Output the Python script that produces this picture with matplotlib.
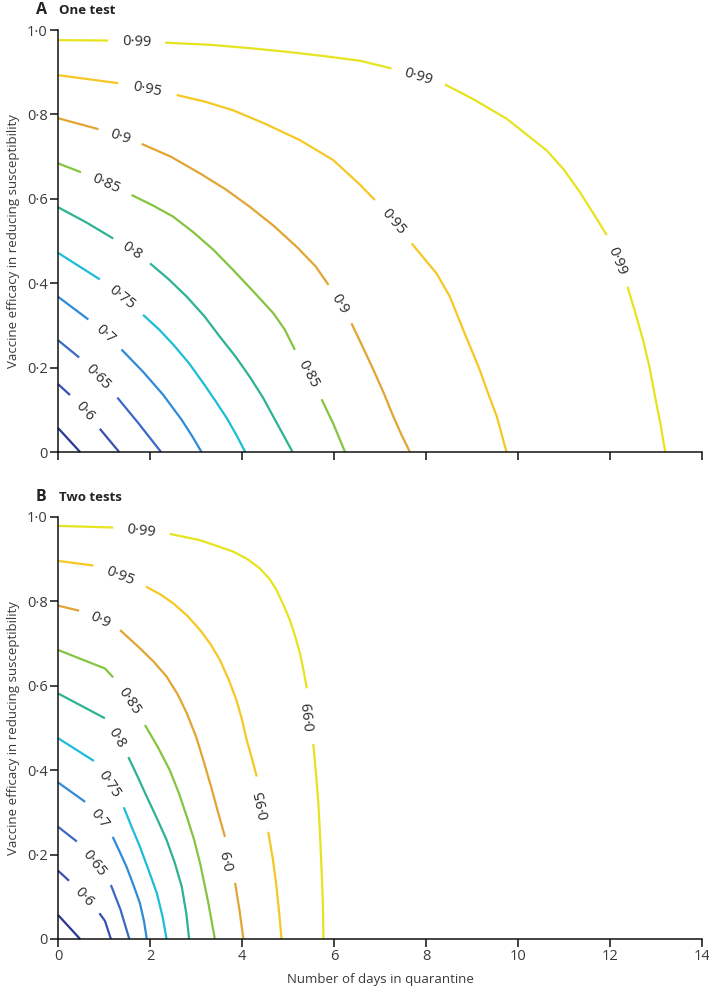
import numpy as np
import matplotlib
matplotlib.use("Agg")
import matplotlib.pyplot as plt
from matplotlib.ticker import FuncFormatter

plt.rcParams['font.family'] = ['Open Sans', 'DejaVu Sans']

levels = [0.55, 0.6, 0.65, 0.7, 0.75, 0.8, 0.85, 0.9, 0.95, 0.99]
level_text = ["0·55", "0·6", "0·65", "0·7", "0·75", "0·8", "0·85", "0·9", "0·95", "0·99"]
colours = ['#2b3894', '#3a4fb0', '#3b68c6', '#2f8ad8', '#1bbdd8',
           '#2db393', '#85c441', '#e2a533', '#f6c823', '#e6e41e']

# A: one test -- each contour read off point by point (days, efficacy)
# gaps = index i where the label sits between point i and i+1
one_test_days = [
    [0, 0.48],
    [0, 0.26, 0.91, 1.1, 1.33],
    [0, 0.46, 1.29, 1.75, 2.24],
    [0, 0.66, 1.38, 1.85, 2.29, 2.69, 2.92, 3.12],
    [0, 0.91, 1.85, 2.2, 2.51, 2.85, 3.16, 3.43, 3.67, 3.88, 4.07],
    [0, 0.6, 1.2, 2.0, 2.4, 2.8, 3.18, 3.52, 3.86, 4.17, 4.45, 4.68, 4.9, 5.1],
    [0, 0.5, 1.6, 2.05, 2.5, 2.95, 3.38, 3.81, 4.25, 4.68, 4.93, 5.15, 5.73, 5.98, 6.24],
    [0, 0.88, 1.82, 2.45, 3.09, 3.65, 4.17, 4.7, 5.2, 5.6, 5.88, 6.38, 6.62, 6.86, 7.08, 7.29, 7.47, 7.65],
    [0, 1.31, 2.58, 3.2, 3.8, 4.5, 5.26, 5.98, 6.57, 6.89, 7.69, 8.23, 8.52, 8.81, 8.99, 9.17, 9.35, 9.54, 9.75],
    [0, 1.09, 2.33, 3.3, 4.17, 5.0, 5.8, 6.57, 7.25, 8.41, 9.03, 9.75, 10.19, 10.62, 10.99, 11.35, 11.64,
     11.93, 12.38, 12.55, 12.72, 12.86, 12.98, 13.1, 13.2],
]
one_test_eff = [
    [0.057, 0],
    [0.161, 0.135, 0.055, 0.03, 0],
    [0.265, 0.224, 0.129, 0.068, 0],
    [0.368, 0.314, 0.243, 0.19, 0.135, 0.076, 0.037, 0],
    [0.472, 0.409, 0.325, 0.29, 0.254, 0.21, 0.163, 0.12, 0.08, 0.04, 0],
    [0.58, 0.545, 0.506, 0.447, 0.41, 0.368, 0.322, 0.273, 0.226, 0.178, 0.13, 0.084, 0.04, 0],
    [0.684, 0.663, 0.609, 0.585, 0.558, 0.52, 0.479, 0.431, 0.38, 0.329, 0.29, 0.242, 0.125, 0.068, 0],
    [0.791, 0.765, 0.73, 0.7, 0.66, 0.622, 0.581, 0.535, 0.485, 0.44, 0.396, 0.305, 0.25, 0.194, 0.14,
     0.084, 0.04, 0],
    [0.893, 0.874, 0.846, 0.83, 0.81, 0.778, 0.739, 0.692, 0.633, 0.597, 0.494, 0.423, 0.368, 0.289,
     0.242, 0.194, 0.139, 0.084, 0],
    [0.976, 0.975, 0.97, 0.965, 0.957, 0.948, 0.938, 0.927, 0.909, 0.871, 0.836, 0.79, 0.752, 0.715,
     0.67, 0.615, 0.565, 0.514, 0.392, 0.33, 0.265, 0.2, 0.131, 0.065, 0],
]
one_test_gaps = [[], [1], [1], [1], [1], [2], [1, 11], [1, 10], [1, 9], [1, 8, 17]]

# B: two tests
two_test_days = [
    [0, 0.48],
    [0, 0.24, 0.9, 1.02, 1.15],
    [0, 0.41, 1.15, 1.36, 1.55],
    [0, 0.59, 1.19, 1.34, 1.49, 1.64, 1.78, 1.87, 1.93],
    [0, 0.78, 1.43, 1.6, 1.78, 1.97, 2.15, 2.27, 2.36],
    [0, 1.02, 1.53, 1.73, 1.93, 2.15, 2.36, 2.54, 2.69, 2.79, 2.85],
    [0, 1.02, 1.2, 1.89, 2.17, 2.43, 2.63, 2.8, 2.96, 3.09, 3.26, 3.41],
    [0, 0.46, 1.35, 1.78, 2.08, 2.36, 2.6, 2.8, 3.0, 3.17, 3.33, 3.48, 3.63, 3.85, 3.95, 4.03],
    [0, 0.77, 1.91, 2.22, 2.51, 2.82, 3.09, 3.32, 3.52, 3.71, 3.88, 4.0, 4.1, 4.21, 4.32,
     4.57, 4.67, 4.75, 4.81, 4.86],
    [0, 1.2, 2.43, 3.09, 3.81, 4.12, 4.39, 4.6, 4.75, 4.9, 5.04, 5.16, 5.26, 5.34, 5.41,
     5.55, 5.61, 5.66, 5.7, 5.73, 5.76, 5.77],
]
two_test_eff = [
    [0.057, 0],
    [0.162, 0.138, 0.061, 0.043, 0],
    [0.266, 0.231, 0.128, 0.069, 0],
    [0.371, 0.325, 0.242, 0.207, 0.171, 0.128, 0.085, 0.042, 0],
    [0.476, 0.422, 0.312, 0.266, 0.219, 0.163, 0.108, 0.055, 0],
    [0.582, 0.523, 0.431, 0.385, 0.337, 0.286, 0.235, 0.18, 0.124, 0.06, 0],
    [0.685, 0.641, 0.62, 0.507, 0.455, 0.4, 0.345, 0.29, 0.235, 0.179, 0.09, 0],
    [0.79, 0.778, 0.732, 0.689, 0.657, 0.622, 0.58, 0.535, 0.48, 0.42, 0.36, 0.3, 0.242, 0.133, 0.065, 0],
    [0.896, 0.885, 0.835, 0.817, 0.795, 0.765, 0.732, 0.698, 0.661, 0.615, 0.566, 0.52, 0.472, 0.43,
     0.385, 0.254, 0.19, 0.124, 0.06, 0],
    [0.979, 0.975, 0.96, 0.945, 0.918, 0.9, 0.878, 0.853, 0.827, 0.792, 0.756, 0.716, 0.677, 0.635,
     0.594, 0.462, 0.39, 0.322, 0.24, 0.164, 0.08, 0],
]
two_test_gaps = [[], [1], [1], [1], [1], [1], [2], [1, 12], [1, 14], [1, 14]]

x_ticks = [0, 2, 4, 6, 8, 10, 12, 14]
y_ticks = [0, 0.2, 0.4, 0.6, 0.8, 1.0]

txt_col = '#3a3a3a'


def dot_fmt(v, pos):
    if abs(v) < 1e-9:
        return "0"
    return f"{v:.1f}".replace(".", "·")


fig = plt.figure(figsize=(7.09, 9.91), dpi=100)
ax_a = fig.add_axes([58 / 709, 1 - 452 / 991, 644 / 709, 422 / 991])
ax_b = fig.add_axes([58 / 709, 1 - 939 / 991, 644 / 709, 422 / 991])


def draw_panel(ax, days, eff, gaps):
    ax.set_xlim(0, 14)
    ax.set_ylim(0, 1)
    for i in range(len(levels)):
        x = list(days[i])
        y = list(eff[i])
        # break the line where the label goes
        xs, ys = [], []
        for j in range(len(x)):
            xs.append(x[j])
            ys.append(y[j])
            if j in gaps[i]:
                xs.append(np.nan)
                ys.append(np.nan)
        ax.plot(xs, ys, color=colours[i], lw=1.6, solid_capstyle='butt',
                solid_joinstyle='round', clip_on=False)
        for g in gaps[i]:
            p1 = ax.transData.transform((x[g], y[g]))
            p2 = ax.transData.transform((x[g + 1], y[g + 1]))
            ang = np.degrees(np.arctan2(p2[1] - p1[1], p2[0] - p1[0]))
            if ang < -75:
                ang += 180
            ax.text((x[g] + x[g + 1]) / 2, (y[g] + y[g + 1]) / 2, level_text[i],
                    rotation=ang, rotation_mode='anchor', ha='center', va='center',
                    fontsize=10.5, color='#2a2a2a')

    for s in ['top', 'right']:
        ax.spines[s].set_visible(False)
    for s in ['left', 'bottom']:
        ax.spines[s].set_linewidth(1.1)
        ax.spines[s].set_color('#111111')
    ax.set_xticks(x_ticks)
    ax.set_yticks(y_ticks)
    ax.yaxis.set_major_formatter(FuncFormatter(dot_fmt))
    ax.tick_params(axis='both', direction='out', length=5.5, width=1.1,
                   color='#111111', labelsize=10.5, labelcolor=txt_col, pad=2)
    ax.set_ylabel("Vaccine efficacy in reducing susceptibility", fontsize=9.5,
                  color=txt_col, labelpad=5)


draw_panel(ax_a, one_test_days, one_test_eff, one_test_gaps)
draw_panel(ax_b, two_test_days, two_test_eff, two_test_gaps)

ax_a.tick_params(axis='x', labelbottom=False)
ax_b.set_xlabel("Number of days in quarantine", fontsize=9.5, color=txt_col, labelpad=6)

fig.text(36 / 709, 1 - 14 / 991, "A", fontsize=11.5, fontweight='bold', color='#222222')
fig.text(59 / 709, 1 - 14 / 991, "One test", fontsize=9.5, fontweight='bold', color='#222222')
fig.text(36 / 709, 1 - 501 / 991, "B", fontsize=11.5, fontweight='bold', color='#222222')
fig.text(59 / 709, 1 - 501 / 991, "Two tests", fontsize=9.5, fontweight='bold', color='#222222')

fig.savefig("out.png", dpi=100)
